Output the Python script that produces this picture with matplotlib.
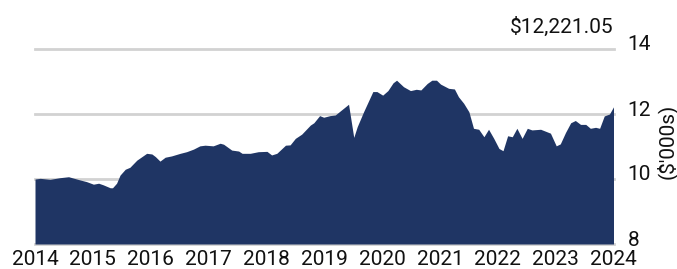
import matplotlib
matplotlib.use("Agg")
import matplotlib.pyplot as plt
import matplotlib.transforms as mtransforms

plt.rcParams['font.family'] = ['Roboto', 'DejaVu Sans']

# value of the investment ($'000s)
years = [2014.0, 2014.09, 2014.26, 2014.43, 2014.58, 2014.78, 2014.89, 2015.01, 2015.1, 2015.18,
         2015.3, 2015.34, 2015.41, 2015.47, 2015.56, 2015.64, 2015.76, 2015.93, 2016.02, 2016.08,
         2016.16, 2016.25, 2016.36, 2016.51, 2016.62, 2016.74, 2016.85, 2016.94, 2017.08, 2017.2,
         2017.26, 2017.4, 2017.52, 2017.58, 2017.72, 2017.86, 2018.01, 2018.09, 2018.18, 2018.33,
         2018.41, 2018.5, 2018.61, 2018.76, 2018.82, 2018.92, 2018.99, 2019.1, 2019.19, 2019.42,
         2019.51, 2019.57, 2019.68, 2019.84, 2019.91, 2020.01, 2020.1, 2020.19, 2020.25, 2020.37,
         2020.49, 2020.59, 2020.67, 2020.78, 2020.86, 2020.94, 2021.01, 2021.15, 2021.25, 2021.32,
         2021.41, 2021.5, 2021.58, 2021.67, 2021.76, 2021.84, 2021.93, 2022.02, 2022.09, 2022.17,
         2022.25, 2022.33, 2022.42, 2022.51, 2022.59, 2022.74, 2022.91, 2023.01, 2023.08, 2023.17,
         2023.26, 2023.34, 2023.43, 2023.52, 2023.6, 2023.69, 2023.76, 2023.84, 2023.93, 2024.0]
values = [10.0, 10.02, 9.99, 10.04, 10.07, 9.97, 9.92, 9.84, 9.87, 9.82,
          9.73, 9.73, 9.87, 10.12, 10.30, 10.36, 10.58, 10.79, 10.77, 10.69,
          10.55, 10.67, 10.71, 10.79, 10.84, 10.92, 11.02, 11.04, 11.02, 11.10,
          11.07, 10.89, 10.86, 10.79, 10.79, 10.84, 10.85, 10.74, 10.79, 11.04,
          11.05, 11.25, 11.38, 11.66, 11.73, 11.95, 11.90, 11.95, 11.97, 12.30,
          11.28, 11.61, 12.07, 12.69, 12.69, 12.58, 12.72, 12.96, 13.04, 12.84,
          12.72, 12.76, 12.74, 12.94, 13.04, 13.04, 12.92, 12.79, 12.77, 12.53,
          12.33, 12.07, 11.56, 11.53, 11.30, 11.53, 11.25, 10.94, 10.87, 11.33,
          11.30, 11.56, 11.25, 11.56, 11.51, 11.53, 11.41, 11.02, 11.08, 11.43,
          11.73, 11.80, 11.68, 11.68, 11.56, 11.59, 11.56, 11.94, 12.00, 12.22]

year_ticks = list(range(2014, 2025))
y_ticks = [8, 10, 12, 14]
final_label = "$12,221.05"

navy = '#1f3564'
txt = '#111111'
fs = 15

fig = plt.figure(figsize=(6.77, 2.69), dpi=100)
ax = fig.add_axes([35/677, 25/269, 578.5/677, 195/269])

for v in y_ticks:
    ax.axhline(v, color='#d2d2d2', lw=2, zorder=0, clip_on=False)
ax.fill_between(years, values, 8, color=navy, lw=0, zorder=2)

ax.set_xlim(2014, 2024)
ax.set_ylim(8, 14)
for s in ax.spines.values():
    s.set_visible(False)

ax.set_xticks(year_ticks)
ax.set_xticklabels([str(y) for y in year_ticks], fontsize=fs, color=txt)
ax.tick_params(axis='x', length=0, pad=4.5)

ax.yaxis.tick_right()
ax.set_yticks(y_ticks)
ax.set_yticklabels([str(v) for v in y_ticks], fontsize=fs, color=txt)
ax.tick_params(axis='y', length=0, pad=10)
shift = mtransforms.ScaledTranslation(0, 6/100, fig.dpi_scale_trans)
for lab in ax.get_yticklabels():
    lab.set_horizontalalignment('left')
    lab.set_transform(lab.get_transform() + shift)

fig.text(667/677, 1 - 141/269, "($'000s)", rotation=90, ha='center', va='center',
         fontsize=fs, color=txt)
up = mtransforms.ScaledTranslation(0, 16/100, fig.dpi_scale_trans)
ax.text(1.0, 1.0, final_label, transform=ax.transAxes + up, ha='right', va='baseline',
        fontsize=fs, color=txt)

fig.savefig('out.png', dpi=100)
